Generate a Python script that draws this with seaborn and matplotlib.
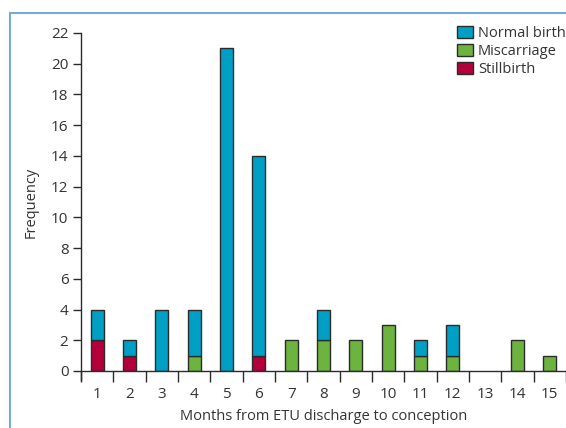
import pandas as pd
import matplotlib
matplotlib.use('Agg')
import matplotlib.pyplot as plt
import seaborn as sns
from matplotlib.patches import Patch
from matplotlib.lines import Line2D

months = ['1', '2', '3', '4', '5', '6', '7', '8', '9', '10', '11', '12', '13', '14', '15']
stillbirth = [2, 1, 0, 0, 0, 1, 0, 0, 0, 0, 0, 0, 0, 0, 0]
miscarriage = [0, 0, 0, 1, 0, 0, 2, 2, 2, 3, 1, 1, 0, 2, 1]
normal_birth = [2, 1, 4, 3, 21, 13, 0, 2, 0, 0, 1, 2, 0, 0, 0]

df = pd.DataFrame({'Month': months, 'Stillbirth': stillbirth,
                   'Miscarriage': miscarriage, 'Normal birth': normal_birth})

sns.set_style('white')
plt.rcParams['font.family'] = ['Open Sans', 'DejaVu Sans']
txt = '#333333'
edge = '#2b2b2b'
c_normal = '#00A0C4'
c_misc = '#6DB33F'
c_still = '#B4003A'

fig = plt.figure(figsize=(5.66, 4.28), dpi=100)
ax = fig.add_axes([0.1431, 0.1332, 0.8569, 0.79])

base2 = df['Stillbirth'] + df['Miscarriage']
sns.barplot(data=df, x='Month', y='Stillbirth', color=c_still, width=0.4,
            edgecolor=edge, linewidth=1, saturation=1, ax=ax)
sns.barplot(data=df, x='Month', y='Miscarriage', bottom=df['Stillbirth'], color=c_misc,
            width=0.4, edgecolor=edge, linewidth=1, saturation=1, ax=ax)
sns.barplot(data=df, x='Month', y='Normal birth', bottom=base2, color=c_normal,
            width=0.4, edgecolor=edge, linewidth=1, saturation=1, ax=ax)
# hide outlines of empty segments
for p in ax.patches:
    if p.get_height() == 0:
        p.set_linewidth(0)

ax.set_xlim(-0.5, 14.5)
ax.set_ylim(0, 22)
ax.set_yticks(range(0, 23, 2))
ax.set_xticks(range(15))
ax.set_xticklabels(months)
ax.set_xticks([i - 0.5 for i in range(16)], minor=True)
ax.tick_params(axis='x', which='major', bottom=False, pad=8, labelsize=11, labelcolor=txt)
ax.tick_params(axis='x', which='minor', bottom=True, length=8, width=1, color=edge,
               direction='out')
ax.tick_params(axis='y', left=True, length=6, width=1, color=edge, direction='out',
               labelsize=11, labelcolor=txt, pad=3)
for s in ['top', 'right']:
    ax.spines[s].set_visible(False)
for s in ['left', 'bottom']:
    ax.spines[s].set_color(edge)
    ax.spines[s].set_linewidth(1)
ax.spines['left'].set_bounds(-0.6, 22)

ax.set_xlabel('Months from ETU discharge to conception', fontsize=10.5, color=txt, labelpad=5)
ax.set_ylabel('Frequency', fontsize=10.5, color=txt, labelpad=9)

handles = [Patch(facecolor=c_normal, edgecolor=edge, label='Normal birth'),
           Patch(facecolor=c_misc, edgecolor=edge, label='Miscarriage'),
           Patch(facecolor=c_still, edgecolor=edge, label='Stillbirth')]
leg = fig.legend(handles=handles, loc='upper left', bbox_to_anchor=(0.797, 0.953),
                 frameon=False, fontsize=10.5, handlelength=1.1, handleheight=0.85,
                 handletextpad=0.35, labelspacing=0.2, borderaxespad=0)
for t in leg.get_texts():
    t.set_color(txt)

# light blue panel frame
fig.add_artist(Line2D([10 / 566, 1], [1 - 13 / 428] * 2, color='#7BA7D7', lw=1.5))
fig.add_artist(Line2D([10 / 566] * 2, [0, 1 - 13 / 428], color='#7BA7D7', lw=1.5))

fig.savefig('out.png', dpi=100)
